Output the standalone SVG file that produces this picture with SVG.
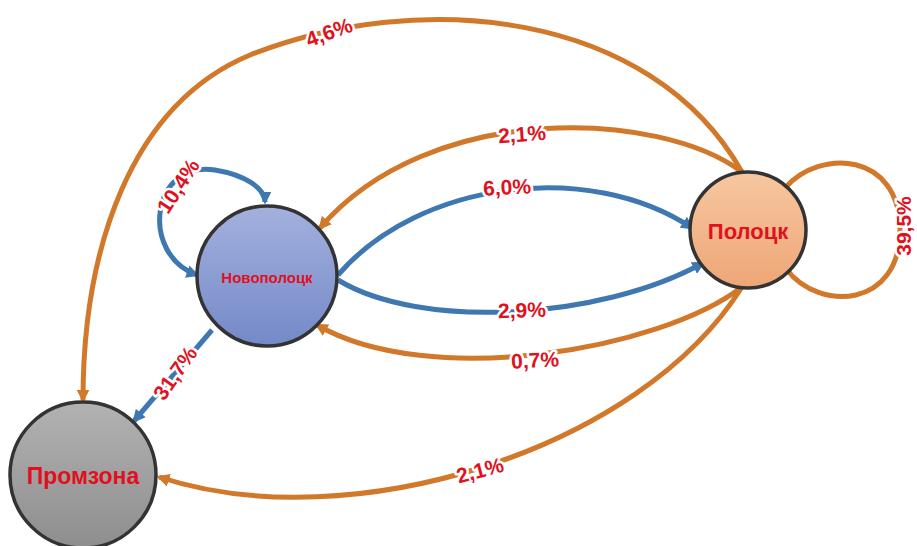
<svg xmlns="http://www.w3.org/2000/svg" width="917" height="546" viewBox="0 0 917 546">
<style>
.node{stroke:#333;stroke-width:3.5}
.o{fill:none;stroke:#d2782a;stroke-width:5}
.b{fill:none;stroke:#3f78b0;stroke-width:5}
.lbl{font-family:"Liberation Sans",Arial,sans-serif;font-weight:bold;font-size:21px;fill:#e01020;text-anchor:middle;dominant-baseline:central;stroke:#fff;stroke-width:5;paint-order:stroke;stroke-linejoin:round}
.nt{font-family:"Liberation Sans",Arial,sans-serif;font-weight:bold;fill:#e01020;text-anchor:middle;dominant-baseline:central}
</style>
<defs>
<marker id="ao" viewBox="0 0 10 10" refX="8" refY="5" markerWidth="2.6" markerHeight="2.6" orient="auto" markerUnits="strokeWidth"><path d="M0,0 L10,5 L0,10 z" fill="#d2782a"/></marker>
<marker id="ab" viewBox="0 0 10 10" refX="8" refY="5" markerWidth="2.6" markerHeight="2.6" orient="auto" markerUnits="strokeWidth"><path d="M0,0 L10,5 L0,10 z" fill="#3f78b0"/></marker>
<marker id="abs" viewBox="0 0 10 10" refX="8" refY="5" markerWidth="2.6" markerHeight="2.6" orient="auto-start-reverse" markerUnits="strokeWidth"><path d="M0,0 L10,5 L0,10 z" fill="#3f78b0"/></marker>
<linearGradient id="gn" x1="0" y1="0" x2="0" y2="1"><stop offset="0" stop-color="#a4b1de"/><stop offset="1" stop-color="#7489c8"/></linearGradient>
<linearGradient id="gp" x1="0" y1="0" x2="0" y2="1"><stop offset="0" stop-color="#f7c7a0"/><stop offset="1" stop-color="#eea676"/></linearGradient>
<linearGradient id="gz" x1="0" y1="0" x2="0" y2="1"><stop offset="0" stop-color="#b2b2b2"/><stop offset="1" stop-color="#8e8e8e"/></linearGradient>
</defs>
<g id="connectors">
<path class="o" d="M742 172 C650 10, 420 -12, 250 55 C130 105, 83 250, 83 400" marker-end="url(#ao)"/>
<path class="o" d="M742 172 C660 110, 430 100, 320 228" marker-end="url(#ao)"/>
<path class="b" d="M338 275 C420 180, 590 160, 692 228" marker-end="url(#ab)"/>
<path class="b" d="M338 280 C420 330, 600 320, 703 263" marker-end="url(#ab)"/>
<path class="o" d="M742 287 C660 350, 430 390, 317 325" marker-end="url(#ao)"/>
<path class="o" d="M742 287 C640 450, 350 540, 159 477" marker-end="url(#ao)"/>
<path class="o" d="M785 188 C820 148, 900 152, 900 230 C900 308, 820 312, 787 270"/>
<path class="b" d="M197 275 C140 255, 150 160, 215 170 C245 175, 265 188, 265 202" marker-start="url(#abs)" marker-end="url(#abs)"/>
<path class="b" d="M212 330 L134 421" marker-end="url(#ab)"/>
</g>
<g id="labels">
<text class="lbl" transform="translate(329,32) rotate(-20)">4,6%</text>
<text class="lbl" transform="translate(522,134) rotate(-4)">2,1%</text>
<text class="lbl" transform="translate(507,187) rotate(-3)">6,0%</text>
<text class="lbl" transform="translate(522,310) rotate(-2)">2,9%</text>
<text class="lbl" transform="translate(535,360) rotate(-3)">0,7%</text>
<text class="lbl" transform="translate(480,470) rotate(-15)">2,1%</text>
<text class="lbl" transform="translate(903,226) rotate(-90)">39,5%</text>
<text class="lbl" transform="translate(178,186) rotate(-57)">10,4%</text>
<text class="lbl" transform="translate(175,373) rotate(-55)">31,7%</text>
</g>
<g id="node-novopolotsk"><circle class="node" cx="267" cy="276" r="70" fill="url(#gn)"/><text class="nt" x="267" y="277" font-size="15">Новополоцк</text></g>
<g id="node-polotsk"><circle class="node" cx="748" cy="230" r="58" fill="url(#gp)"/><text class="nt" x="748" y="231" font-size="22">Полоцк</text></g>
<g id="node-promzona"><circle class="node" cx="83" cy="475" r="73" fill="url(#gz)"/><text class="nt" x="83" y="476" font-size="23">Промзона</text></g>
</svg>
